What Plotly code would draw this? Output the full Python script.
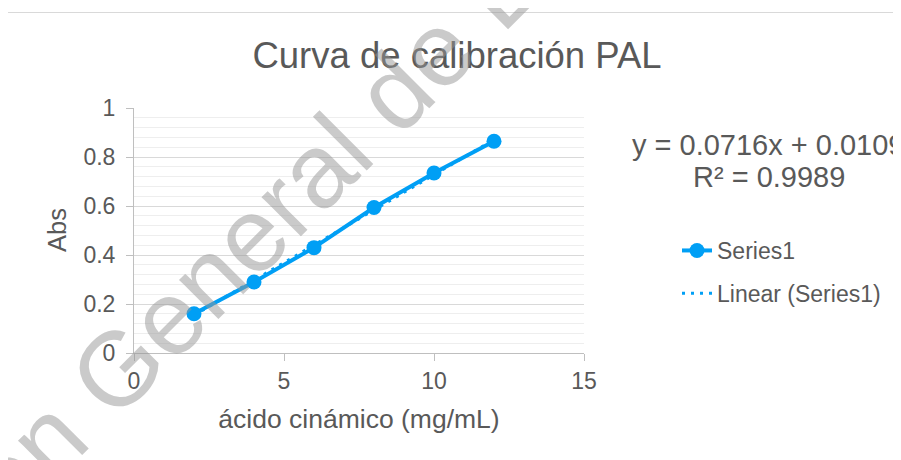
import numpy as np
import plotly.graph_objects as go

# ---- data ----
conc = [2, 4, 6, 8, 10, 12]                      # ácido cinámico (mg/mL)
absorb = [0.160, 0.290, 0.430, 0.594, 0.735, 0.864]  # Abs
series_name = "Series1"
trend_name = "Linear (Series1)"
eq_text = "y = 0.0716x + 0.0109"
r2_text = "R² = 0.9989"
title_text = "Curva de calibración PAL"
x_title = "ácido cinámico (mg/mL)"
y_title = "Abs"
watermark = "Dirección General de Bibliotecas"

# ---- layout constants (page body has an 8px margin) ----
OFF = 8
W, H = 901 - OFF, 460 - OFF
PL, PR, PT, PB = 134, 584, 108, 353   # plot area in page pixels
L, T = PL - OFF, PT - OFF
R, B = W - (PR - OFF), H - (PB - OFF)
PW, PH = PR - PL, PB - PT
BLUE = "#009FF5"
TXT = "#595959"
FONT = "Liberation Sans, Arial, sans-serif"


def px_x(p):
    return (p - PL) / PW


def px_y(p):
    return (PB - p) / PH


slope, icpt = np.polyfit(conc, absorb, 1)
tx = [min(conc), max(conc)]
ty = [slope * v + icpt for v in tx]

fig = go.Figure()
fig.add_trace(go.Scatter(
    x=conc, y=absorb, mode="lines+markers", name=series_name,
    line=dict(color=BLUE, width=4), marker=dict(color=BLUE, size=15),
    legendgroup="a",
))
fig.add_trace(go.Scatter(
    x=tx, y=ty, mode="lines", name=trend_name,
    line=dict(color=BLUE, width=3, dash="3px,6px"),
    legendgroup="b",
))

fig.update_layout(
    width=W, height=H,
    margin=dict(l=L, r=R, t=T, b=B, pad=0),
    paper_bgcolor="white", plot_bgcolor="white",
    font=dict(family=FONT, color=TXT, size=23),
    title=dict(text=title_text, x=(457 - OFF) / W, xanchor="center",
               y=1 - (55 - OFF) / H, yanchor="middle", yref="container",
               font=dict(size=36.5, color=TXT, family=FONT)),
    showlegend=True,
    legend=dict(x=px_x(677), xanchor="left", y=px_y(229), yanchor="top",
                font=dict(size=23, color=TXT), tracegroupgap=10,
                bgcolor="rgba(0,0,0,0)"),
    xaxis=dict(range=[0, 15], dtick=5, showgrid=False, zeroline=False,
               showline=True, linecolor="#bfbfbf", linewidth=1,
               ticks="outside", ticklen=7, tickcolor="#bfbfbf",
               tickfont=dict(size=23, color=TXT),
               title=dict(text=x_title, font=dict(size=26.5, color=TXT), standoff=16)),
    yaxis=dict(range=[0, 1], dtick=0.2, showgrid=True, gridcolor="#d9d9d9",
               gridwidth=1, zeroline=False,
               showline=True, linecolor="#bfbfbf", linewidth=1,
               ticks="outside", ticklen=7, tickcolor="#bfbfbf",
               tickfont=dict(size=23, color=TXT), ticklabelstandoff=6,
               minor=dict(dtick=0.04, showgrid=True, gridcolor="#eeeeee", ticks="")),
)

# y axis title
fig.add_annotation(text=y_title, xref="paper", yref="paper",
                   x=px_x(57), y=px_y(230), xanchor="center", yanchor="middle",
                   textangle=-90, showarrow=False,
                   font=dict(size=25.5, color=TXT))

# chart area border (extends past the visible crop)
fig.add_shape(type="rect", xref="paper", yref="paper",
              x0=px_x(7.5), x1=px_x(1000), y0=px_y(600), y1=px_y(12.5),
              line=dict(color="#d9d9d9", width=1), layer="below")

# trendline label
fig.add_annotation(text=eq_text, xref="paper", yref="paper",
                   x=px_x(630), xanchor="left", y=px_y(145), yanchor="middle",
                   showarrow=False, font=dict(size=29, color=TXT))
fig.add_annotation(text=r2_text, xref="paper", yref="paper",
                   x=px_x(769), xanchor="center", y=px_y(177), yanchor="middle",
                   showarrow=False, font=dict(size=29, color=TXT))

# watermark
fig.add_annotation(text=watermark, xref="paper", yref="paper",
                   x=px_x(296), y=px_y(189), xanchor="center", yanchor="middle",
                   textangle=-45, showarrow=False,
                   font=dict(size=105, color="rgba(150,150,150,0.5)", family=FONT))

fig.write_html("out.html")
